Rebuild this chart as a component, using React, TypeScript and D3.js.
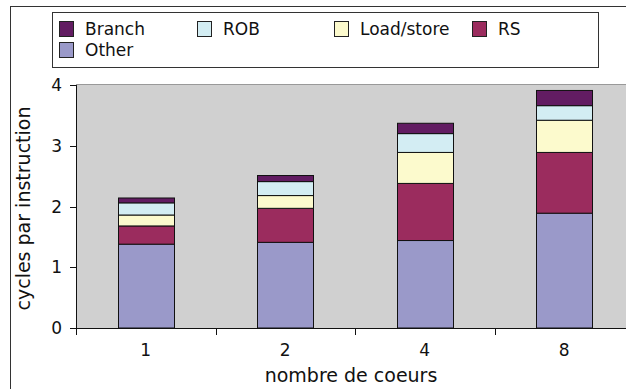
import React from "react";
import * as d3 from "d3";

const categories = ["1", "2", "4", "8"];
const seriesNames = ["Other", "RS", "Load/store", "ROB", "Branch"];
const other = [1.38, 1.41, 1.44, 1.89];
const rs = [0.30, 0.56, 0.94, 1.00];
const loadStore = [0.18, 0.21, 0.51, 0.53];
const rob = [0.20, 0.23, 0.31, 0.24];
const branch = [0.08, 0.10, 0.17, 0.25];
const yTicks = [0, 1, 2, 3, 4];
const legendOrder = ["Branch", "ROB", "Load/store", "RS", "Other"];

const colors: Record<string, string> = {
  Other: "#9a99c9",
  RS: "#9b2c5e",
  "Load/store": "#fcfacd",
  ROB: "#d3edf3",
  Branch: "#621c62",
};

const W = 626;
const H = 389;
const plot = { left: 76, right: 634, top: 85, bottom: 328 };
const font = "DejaVu Sans, sans-serif";

export default function App() {
  const rows = categories.map((c, i) => ({
    cat: c,
    Other: other[i],
    RS: rs[i],
    "Load/store": loadStore[i],
    ROB: rob[i],
    Branch: branch[i],
  }));
  const stacked = d3.stack<any>().keys(seriesNames)(rows);

  const x = d3
    .scaleBand<string>()
    .domain(categories)
    .range([plot.left, plot.right])
    .paddingInner(0.6)
    .paddingOuter(0.3);
  const bandStep = x.step();
  const y = d3.scaleLinear().domain([0, 4]).range([plot.bottom, plot.top]);

  const legendCols = [59, 197, 334, 472];
  const legendRows = [21, 42];

  return (
    <svg
      width={W}
      height={H}
      style={{ position: "absolute", left: 0, top: 0, background: "#fff" }}
      fontFamily={font}
    >
      {/* outer frame */}
      <rect x={10.5} y={6.5} width={700} height={500} fill="#fff" stroke="#333" strokeWidth={1} />

      {/* legend */}
      <rect x={52.5} y={12.5} width={546} height={55} fill="#fff" stroke="#333" strokeWidth={1} />
      {legendOrder.map((name, i) => {
        const cx = legendCols[i % 4];
        const cy = legendRows[Math.floor(i / 4)];
        return (
          <g key={name}>
            <rect x={cx + 0.5} y={cy + 0.5} width={14} height={15} fill={colors[name]} stroke="#222" strokeWidth={1} />
            <text x={cx + 26} y={cy + 14} fontSize={17} fill="#111">
              {name}
            </text>
          </g>
        );
      })}

      {/* plot area */}
      <rect x={plot.left} y={plot.top} width={plot.right - plot.left} height={plot.bottom - plot.top} fill="#d0d0d0" />
      <line x1={plot.left} x2={plot.right} y1={plot.top - 0.5} y2={plot.top - 0.5} stroke="#999" strokeWidth={1} />

      {/* bars */}
      {stacked.map((layer) => (
        <g key={layer.key}>
          {layer.map((d, i) => (
            <rect
              key={i}
              x={Math.round(x(categories[i])!) + 0.5}
              y={y(d[1])}
              width={Math.round(x.bandwidth())}
              height={y(d[0]) - y(d[1])}
              fill={colors[layer.key]}
              stroke="#111"
              strokeWidth={1}
            />
          ))}
        </g>
      ))}

      {/* y axis */}
      <line x1={plot.left + 0.5} x2={plot.left + 0.5} y1={plot.top} y2={plot.bottom} stroke="#111" />
      {yTicks.map((t) => (
        <g key={t}>
          <line x1={plot.left - 6} x2={plot.left} y1={Math.round(y(t)) + 0.5} y2={Math.round(y(t)) + 0.5} stroke="#111" />
          <text x={plot.left - 14} y={y(t) + 6} fontSize={17} textAnchor="end" fill="#111">
            {t}
          </text>
        </g>
      ))}

      {/* x axis */}
      <line x1={plot.left} x2={plot.right} y1={plot.bottom + 0.5} y2={plot.bottom + 0.5} stroke="#111" />
      {d3.range(categories.length + 1).map((k) => {
        const xx = Math.round(plot.left + k * bandStep) + 0.5;
        return <line key={k} x1={xx} x2={xx} y1={plot.bottom} y2={plot.bottom + 7} stroke="#111" />;
      })}
      {categories.map((c) => (
        <text key={c} x={x(c)! + x.bandwidth() / 2} y={plot.bottom + 28} fontSize={17} textAnchor="middle" fill="#111">
          {c}
        </text>
      ))}

      {/* axis titles */}
      <text x={351} y={plot.bottom + 54} fontSize={19} textAnchor="middle" fill="#111">
        nombre de coeurs
      </text>
      <text
        transform={`translate(${30},${(plot.top + plot.bottom) / 2 + 2}) rotate(-90)`}
        fontSize={19}
        textAnchor="middle"
        fill="#111"
      >
        cycles par instruction
      </text>
    </svg>
  );
}
